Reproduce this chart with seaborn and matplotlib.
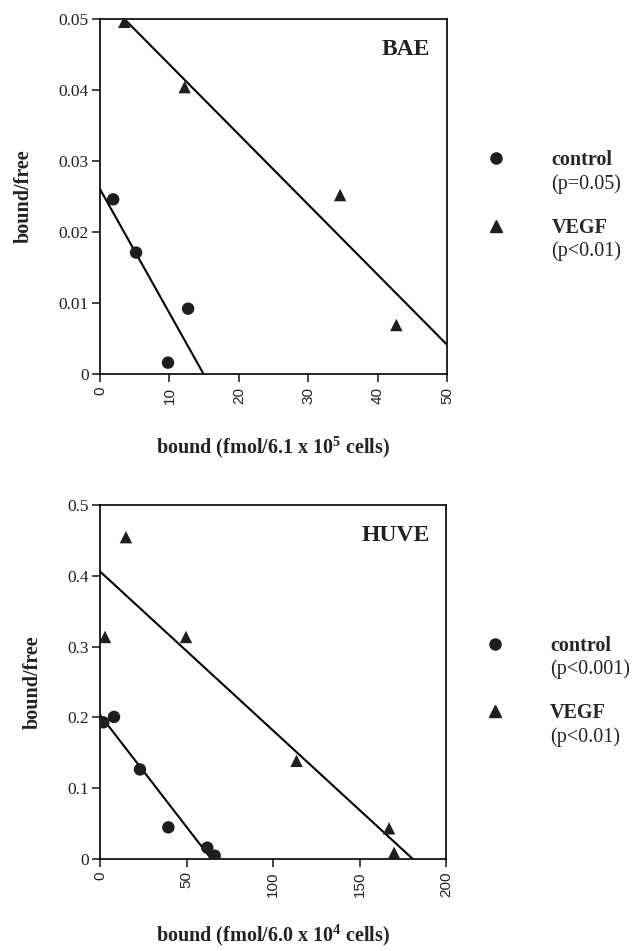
import matplotlib
matplotlib.use("Agg")
import matplotlib.pyplot as plt
import seaborn as sns
import pandas as pd
from matplotlib.lines import Line2D

# ---- data ----
bae_ctrl_x = [1.9, 5.2, 12.7, 9.8]
bae_ctrl_y = [0.0246, 0.0171, 0.0092, 0.0016]
bae_vegf_x = [3.5, 12.2, 34.6, 42.7]
bae_vegf_y = [0.0496, 0.0404, 0.0252, 0.0069]

huve_ctrl_x = [1.9, 8.1, 23.1, 39.5, 62.0, 66.3]
huve_ctrl_y = [0.193, 0.2007, 0.1265, 0.0447, 0.016, 0.0047]
huve_vegf_x = [2.9, 15.0, 49.7, 113.6, 167.1, 170.0]
huve_vegf_y = [0.3136, 0.4546, 0.3136, 0.1387, 0.0433, 0.0089]

bae_yticks = [0, 0.01, 0.02, 0.03, 0.04, 0.05]
bae_ylabels = ["0", "0.01", "0.02", "0.03", "0.04", "0.05"]
bae_xticks = [0, 10, 20, 30, 40, 50]
huve_yticks = [0, 0.1, 0.2, 0.3, 0.4, 0.5]
huve_ylabels = ["0", "0.1", "0.2", "0.3", "0.4", "0.5"]
huve_xticks = [0, 50, 100, 150, 200]

bae_p = ["(p=0.05)", "(p<0.01)"]
huve_p = ["(p<0.001)", "(p<0.01)"]
groups = ["control", "VEGF"]

sns.set_style("ticks")
plt.rcParams["font.family"] = ["Liberation Serif", "DejaVu Serif"]
plt.rcParams["mathtext.fontset"] = "custom"
plt.rcParams["mathtext.rm"] = "Liberation Serif:bold"
plt.rcParams["mathtext.bf"] = "Liberation Serif:bold"
plt.rcParams["axes.linewidth"] = 1.2
plt.rcParams["xtick.major.width"] = 1.2
plt.rcParams["ytick.major.width"] = 1.2
plt.rcParams["xtick.major.size"] = 6
plt.rcParams["ytick.major.size"] = 6

DARK = "#1e1e1e"
TXT = "#222222"

fig = plt.figure(figsize=(6.32, 9.51), dpi=100)
ax1 = fig.add_axes([100/632, 1-374/951, 347/632, 355/951])
ax2 = fig.add_axes([100/632, 1-859/951, 346/632, 354/951])


def panel(ax, cx, cy, vx, vy, xlim, ylim, xticks, yticks, ylabels, xlabel, name, pvals):
    df = pd.DataFrame({
        "bound": list(cx) + list(vx),
        "bf": list(cy) + list(vy),
        "group": ["control"] * len(cx) + ["VEGF"] * len(vx),
    })
    ax.set_xlim(*xlim)
    ax.set_ylim(*ylim)
    sns.scatterplot(data=df, x="bound", y="bf", style="group",
                    markers={"control": "o", "VEGF": "^"},
                    color=DARK, s=80, edgecolor="none", legend=False,
                    ax=ax, zorder=3)
    for g in groups:
        sub = df[df.group == g]
        sns.regplot(data=sub, x="bound", y="bf", scatter=False, ci=None,
                    truncate=False, color="black",
                    line_kws={"lw": 1.5}, ax=ax)
    ax.set_xlim(*xlim)
    ax.set_ylim(*ylim)
    ax.set_xticks(xticks)
    ax.set_xticklabels([str(t) for t in xticks], rotation=90,
                       family="Liberation Sans", fontsize=11, color=TXT)
    ax.set_yticks(yticks)
    ax.set_yticklabels(ylabels, fontsize=12.5, color=TXT)
    ax.tick_params(axis="y", pad=2)
    ax.tick_params(axis="x", pad=3)
    for sp in ax.spines.values():
        sp.set_visible(True)
        sp.set_color("black")
    ax.set_ylabel("bound/free", fontsize=14.5, fontweight="bold", color=TXT)
    ax.set_xlabel(xlabel, fontsize=14.5, fontweight="bold", color=TXT)
    ax.text(0.952, 0.915, name, transform=ax.transAxes, ha="right", va="center",
            fontsize=17, fontweight="bold", color=TXT)
    handles = [Line2D([], [], marker="o", ls="none", color=DARK, markersize=8),
               Line2D([], [], marker="^", ls="none", color=DARK, markersize=8.5)]
    ax.legend(handles, groups, loc="upper left", bbox_to_anchor=(1.112, 0.63),
              frameon=False, borderpad=0, borderaxespad=0, handlelength=1.0,
              handletextpad=2.25, labelspacing=2.35,
              prop={"family": "Liberation Serif", "weight": "bold", "size": 14.5})
    ax.text(1.30, 0.535, pvals[0], transform=ax.transAxes, ha="left", va="center",
            fontsize=14.5, color=TXT)
    ax.text(1.30, 0.345, pvals[1], transform=ax.transAxes, ha="left", va="center",
            fontsize=14.5, color=TXT)


panel(ax1, bae_ctrl_x, bae_ctrl_y, bae_vegf_x, bae_vegf_y, (0, 50), (0, 0.05),
      bae_xticks, bae_yticks, bae_ylabels,
      r"bound (fmol/6.1 x 10$^{5}$ cells)", "BAE", bae_p)
panel(ax2, huve_ctrl_x, huve_ctrl_y, huve_vegf_x, huve_vegf_y, (0, 200), (0, 0.5),
      huve_xticks, huve_yticks, huve_ylabels,
      r"bound (fmol/6.0 x 10$^{4}$ cells)", "HUVE", huve_p)

ax1.xaxis.labelpad = 22
ax2.xaxis.labelpad = 18
ax1.yaxis.labelpad = 18
ax2.yaxis.labelpad = 18

fig.savefig("out.png", dpi=100, facecolor="white")
